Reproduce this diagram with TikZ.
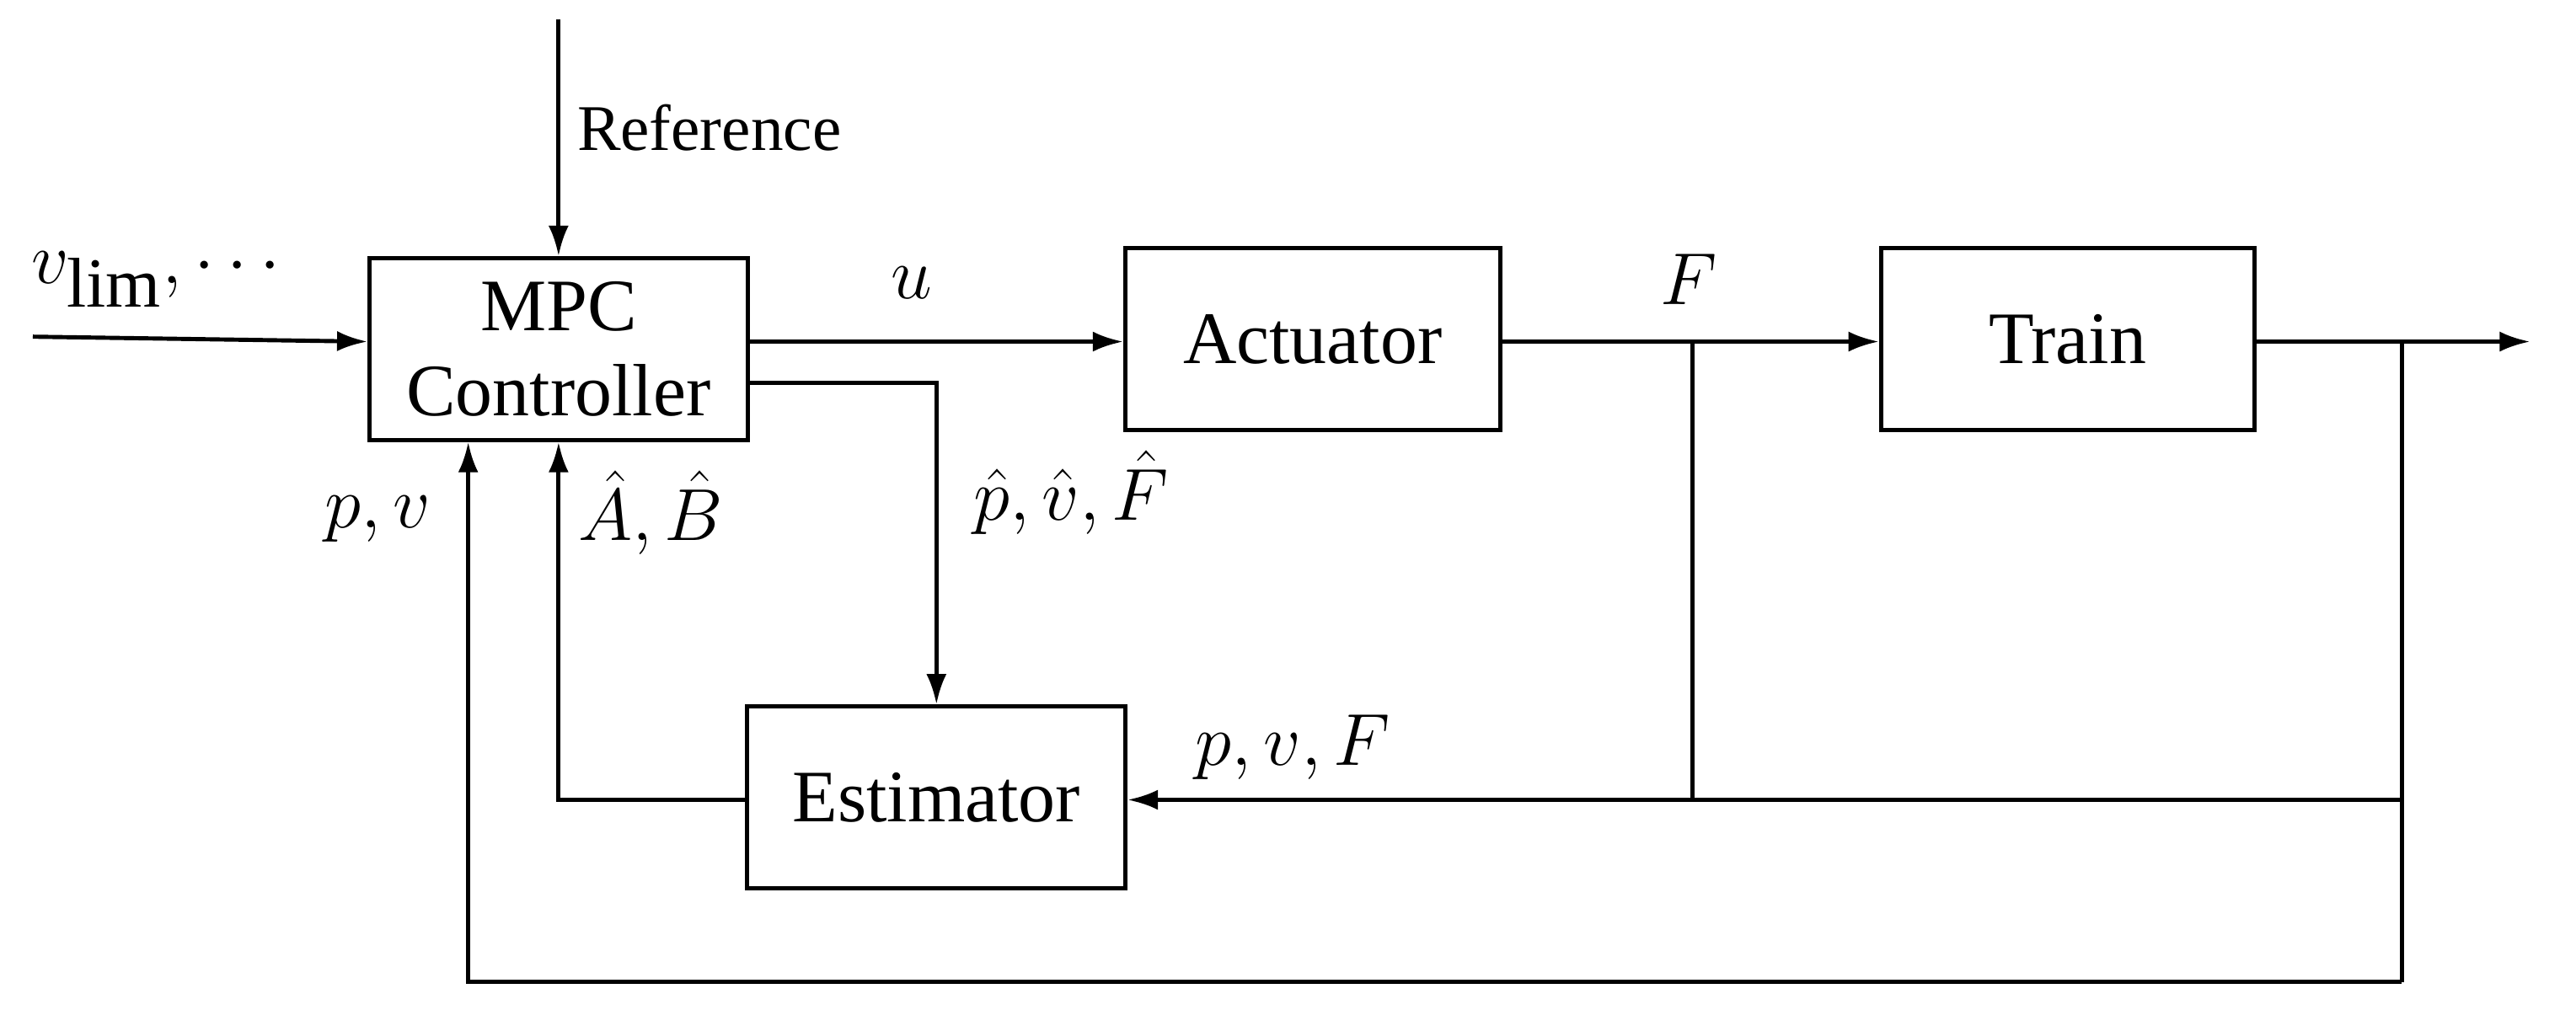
\documentclass[tikz,border=0pt]{standalone}
\usepackage{fontspec}
\setmainfont{Liberation Serif}
\usetikzlibrary{arrows.meta}
\begin{document}
\begin{tikzpicture}[x=0.0195cm,y=-0.0195cm,
  blk/.style={draw,line width=1.4pt,minimum width=4.49cm,minimum height=2.16cm,align=center,font=\fontsize{25}{29}\selectfont,inner sep=0pt},
  conn/.style={line width=1.4pt,-{Latex[length=0.36cm,width=0.24cm]}},
  wire/.style={line width=1.4pt},
  lbl/.style={font=\fontsize{29}{31}\selectfont},
  biglbl/.style={font=\fontsize{34}{36}\selectfont}]
\useasboundingbox (0,0) rectangle (1568,614.5);
\node[blk] (mpc) at (340,212.5) {MPC\\Controller};
\node[blk,minimum width=4.45cm] (act) at (799,206.5) {Actuator};
\node[blk,minimum width=4.43cm] (train) at (1258.5,206.5) {Train};
\node[blk] (est) at (570,485.5) {Estimator};
\coordinate (in) at (20,205);
\coordinate (reftop) at (340,12);
\coordinate (jF) at (1030,208);
\coordinate (jFb) at (1030,487);
\coordinate (jT) at (1462,208);
\coordinate (jTb) at (1462,487);
\coordinate (jTbb) at (1462,598);
\coordinate (out) at (1540,208);
\coordinate (bl) at (285,598);
\draw[conn] (in) -- (mpc.west |- 0,208);
\draw[conn] (reftop) -- (mpc.north);
\node[font=\fontsize{22}{24}\selectfont,anchor=west] (reflbl) at (345,78) {Reference};
\node[biglbl] (vlim) at (95,170) {$v_{\mathrm{lim}},\cdots$};
\draw[conn] (mpc.east |- 0,208) -- (act.west |- 0,208);
\node[biglbl] (ulbl) at (555,172) {$u$};
\draw[conn] (mpc.east |- 0,233) -| (est.north);
\node[lbl] (hatlbl) at (652,300) {$\hat p,\hat v,\hat F$};
\draw[conn] (act.east |- 0,208) -- (train.west |- 0,208);
\node[biglbl] (Flbl) at (1028,170) {$F$};
\draw[wire] (jF) -- (jFb);
\draw[conn] (train.east |- 0,208) -- (out);
\draw[wire] (jT) -- (jTbb);
\draw[conn] (jTb) -- (est.east |- 0,487);
\node[lbl] (pvF) at (787,455) {$p,v,F$};
\draw[conn] (jTbb) -- (bl) -- (bl |- mpc.south);
\node[lbl] (pv) at (230,316) {$p,v$};
\draw[conn] (est.west |- 0,487) -| (mpc.south);
\node[lbl] (AB) at (396,312) {$\hat A,\hat B$};
\end{tikzpicture}
\end{document}
